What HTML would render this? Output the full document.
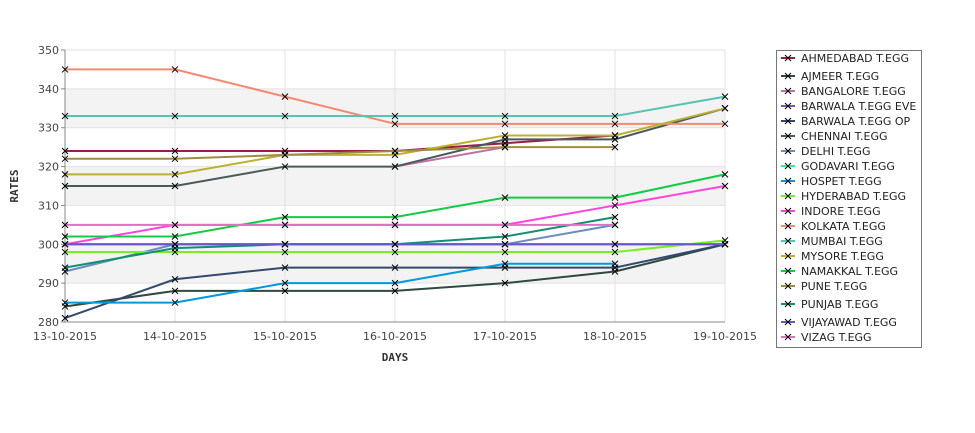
<!DOCTYPE html>
<html><head><meta charset="utf-8"><style>
body{margin:0;background:#fff;width:975px;height:429px;overflow:hidden;font-family:"DejaVu Sans","Liberation Sans",sans-serif}
</style></head><body>
<svg id="chart" width="975" height="429" xmlns="http://www.w3.org/2000/svg" font-family="DejaVu Sans, Liberation Sans, sans-serif">
<g id="plot"></g>
<g id="legend"></g>
</svg>
<script>
const categories=["13-10-2015","14-10-2015","15-10-2015","16-10-2015","17-10-2015","18-10-2015","19-10-2015"];
const yTicks=[280,290,300,310,320,330,340,350];
const seriesNames=["AHMEDABAD T.EGG","AJMEER T.EGG","BANGALORE T.EGG","BARWALA T.EGG EVE","BARWALA T.EGG OP","CHENNAI T.EGG","DELHI T.EGG","GODAVARI T.EGG","HOSPET T.EGG","HYDERABAD T.EGG","INDORE T.EGG","KOLKATA T.EGG","MUMBAI T.EGG","MYSORE T.EGG","NAMAKKAL T.EGG","PUNE T.EGG","PUNJAB T.EGG","VIJAYAWAD T.EGG","VIZAG T.EGG"];
const seriesColors=["#9b1b4a","#2f4a40","#c070a8","#7b52c0","#334a6e","#4a5a5a","#6b8cbf","#33ee99","#0099dd","#77ee22","#ff44dd","#f48a70","#55c4b0","#bbb033","#11cc44","#a08c40","#119070","#6655cc","#e070c0"];
const ahmedabad=[324,324,324,324,326,328,null];
const ajmeer=[284,288,288,288,290,293,300];
const bangalore=[null,null,null,320,325,null,null];
const barwalaEve=[300,300,300,300,300,300,300];
const barwalaOp=[281,291,294,294,294,294,300];
const chennai=[315,315,320,320,327,327,335];
const delhi=[293,300,300,300,300,305,null];
const godavari=[null,null,null,null,null,null,null];
const hospet=[285,285,290,290,295,295,null];
const hyderabad=[298,298,298,298,298,298,301];
const indore=[300,305,305,305,305,310,315];
const kolkata=[345,345,338,331,331,331,331];
const mumbai=[333,333,333,333,333,333,338];
const mysore=[318,318,323,323,328,328,335];
const namakkal=[302,302,307,307,312,312,318];
const pune=[322,322,323,324,325,325,null];
const punjab=[294,299,300,300,302,307,null];
const vijayawad=[300,300,300,300,300,300,300];
const vizag=[305,305,305,305,305,305,null];
const seriesValues=[ahmedabad,ajmeer,bangalore,barwalaEve,barwalaOp,chennai,delhi,godavari,hospet,hyderabad,indore,kolkata,mumbai,mysore,namakkal,pune,punjab,vijayawad,vizag];

const NS="http://www.w3.org/2000/svg";
const L=65,R=725,T=50,B=322,ymin=280,ymax=350;
const xS=i=>L+(R-L)*i/(categories.length-1);
const yS=v=>B-(v-ymin)/(ymax-ymin)*(B-T);
function mk(tag,attrs,parent){const e=document.createElementNS(NS,tag);for(const k in attrs)e.setAttribute(k,attrs[k]);parent.appendChild(e);return e;}
const plot=document.getElementById('plot');
// bands
for(let i=0;i<yTicks.length-1;i++){ if(i%2===1){const r=mk('rect',{x:L,y:yS(yTicks[i+1]),width:R-L,height:yS(yTicks[i])-yS(yTicks[i+1]),fill:'#f3f3f3'},plot);

}}
yTicks.forEach(t=>{const g=mk('line',{x1:L,x2:R,y1:yS(t),y2:yS(t),stroke:'#e2e2e2'},plot);


mk('line',{x1:L-4,x2:L,y1:yS(t),y2:yS(t),stroke:'#888'},plot);
const tx=mk('text',{x:L-6,y:yS(t)+4,'text-anchor':'end','font-size':11,fill:'#444'},plot);tx.textContent=t;

});
categories.forEach((c,i)=>{const g=mk('line',{x1:xS(i),x2:xS(i),y1:T,y2:B,stroke:'#e2e2e2'},plot);


const tx=mk('text',{x:xS(i),y:340,'text-anchor':'middle','font-size':11,fill:'#444'},plot);tx.textContent=c;

});
mk('line',{x1:L,x2:L,y1:T,y2:B,stroke:'#888'},plot);
mk('line',{x1:L,x2:R,y1:B,y2:B,stroke:'#888'},plot);
const yt=mk('text',{x:0,y:0,transform:'translate(18,186) rotate(-90)','text-anchor':'middle','font-size':11,'font-weight':'bold',fill:'#333','font-family':'DejaVu Sans Mono, Liberation Mono, monospace'},plot);yt.textContent='RATES';


const xt=mk('text',{x:395,y:361,'text-anchor':'middle','font-size':11,'font-weight':'bold',fill:'#333','font-family':'DejaVu Sans Mono, Liberation Mono, monospace'},plot);xt.textContent='DAYS';


function cross(x,y,p){const d=`M${x-3} ${y-3}L${x+3} ${y+3}M${x-3} ${y+3}L${x+3} ${y-3}`;const c=mk('path',{d:d,stroke:'#000','stroke-width':1},p);return c;}
seriesValues.forEach((vals,s)=>{
 const g=mk('g',{},plot);
 
 
 let d='',pen=false;
 vals.forEach((v,i)=>{if(v==null){pen=false;return;}d+=(pen?'L':'M')+xS(i)+' '+yS(v);pen=true;});
 if(d){const p=mk('path',{d:d,fill:'none',stroke:seriesColors[s],'stroke-width':2},g);
 
 }
 vals.forEach((v,i)=>{if(v==null)return;const c=cross(xS(i),yS(v),g);
 
 });
});
// legend
const lg=document.getElementById('legend');
mk('rect',{x:776.5,y:50.5,width:145,height:297,fill:'#fff',stroke:'#777'},lg);
const rowY=[58,76,91,106,121,136,151,166,181,196,211,226,241,256,271,286,304,322,337];
seriesNames.forEach((n,i)=>{const g=mk('g',{},lg);
 
 
 const y=rowY[i];
 mk('line',{x1:781,x2:795,y1:y,y2:y,stroke:seriesColors[i],'stroke-width':2},g);
 cross(788,y,g);
 const t=mk('text',{x:801,y:y+4,'font-size':11,fill:'#222'},g);t.textContent=n;});
</script>
</body></html>
